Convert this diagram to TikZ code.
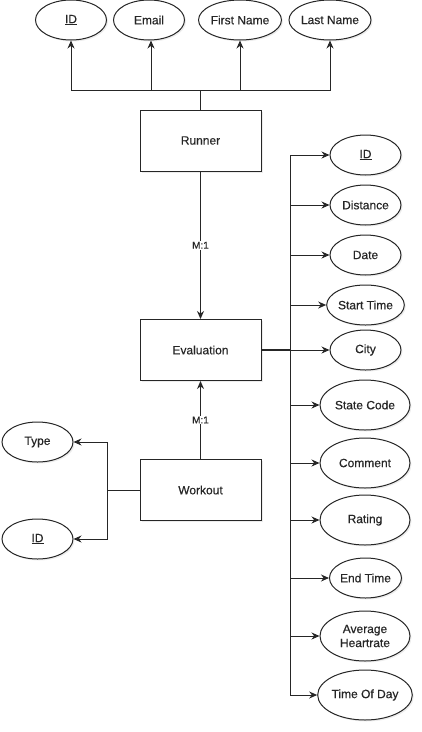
\documentclass[tikz,border=0pt]{standalone}
\usepackage{fontspec}
\setmainfont[FakeBold=0.4,AutoFakeBold=0.4]{Liberation Sans}
\usetikzlibrary{shapes.geometric,arrows.meta,shadows}
\begin{document}
\begin{tikzpicture}[x=1pt,y=-1pt,
  font=\fontsize{12}{14}\selectfont\bfseries,
  every node/.style={inner sep=0pt, text=black!85},
  entity/.style={draw=black!85, line width=1pt, fill=white, minimum width=121pt, minimum height=61pt, rectangle,
    drop shadow={opacity=0.15, shadow xshift=1.5pt, shadow yshift=-1.5pt}},
  attr/.style={draw=black!85, line width=1pt, fill=white, ellipse, minimum width=71pt, minimum height=40pt,
    drop shadow={opacity=0.15, shadow xshift=1.5pt, shadow yshift=-1.5pt}},
  bigattr/.style={attr, minimum width=90pt, minimum height=50pt, align=center},
  link/.style={draw=black!85, line width=1pt},
  arr/.style={link, -{Stealth[length=8pt,width=7pt]}},
  card/.style={fill=white, font=\fontsize{10}{12}\selectfont\bfseries, inner sep=1pt}
]
\useasboundingbox (0,0) rectangle (422,732);

% top attributes of Runner
\node[attr] (rid) at (71,20) {\underline{ID}};
\node[attr] (remail) at (149,20) {Email};
\node[attr] (rfirst) at (240,20) {First Name};
\node[attr] (rlast) at (330,20) {Last Name};

% entities
\node[entity] (runner) at (200.5,140.5) {Runner};
\node[entity] (eval) at (200.5,350) {Evaluation};
\node[entity] (work) at (200.5,490) {Workout};

% evaluation attributes
\node[attr] (eid) at (365.5,155) {\underline{ID}};
\node[attr] (edist) at (365.5,205) {Distance};
\node[attr] (edate) at (365.5,255) {Date};
\node[attr] (estart) at (365.5,305) {Start Time};
\node[attr] (ecity) at (365.5,350) {City};
\node[bigattr] (estate) at (365,405) {State Code};
\node[bigattr] (ecomm) at (365,463) {Comment};
\node[bigattr] (erate) at (365,520) {Rating};
\node[attr] (eend) at (365.5,578) {End Time};
\node[bigattr] (eheart) at (365,636) {Average\\Heartrate};
\node[bigattr] (etod) at (365,695) {Time Of Day};

% workout attributes
\node[attr] (wtype) at (37.5,442) {Type};
\node[attr] (wid) at (37.5,539) {\underline{ID}};

% junctions
\coordinate (rb) at (200.5,90);
\coordinate (eb) at (290.5,350);
\coordinate (wb) at (107,490);

% runner attribute links
\draw[link, line width=1.4pt] (runner.north) -- (rb);
\draw[arr] (rb) -| (rid.south);
\draw[arr] (rb) -| ([xshift=2pt]remail.south);
\draw[arr] (rb) -| (rfirst.south);
\draw[arr] (rb) -| (rlast.south);

% relationships
\draw[arr] (runner.south) -- node[card] {M:1} (eval.north);
\draw[arr] (work.north) -- node[card, pos=0.5] {M:1} (eval.south);

% evaluation attribute links
\draw[link, line width=1.5pt] (eval.east) -- (eb);
\foreach \n in {eid,edist,edate,estart,ecity,estate,ecomm,erate,eend,eheart,etod}
  \draw[arr] (eb) |- (\n.west);

% workout attribute links
\draw[link] (work.west) -- (wb);
\draw[arr] (wb) |- (wtype.east);
\draw[arr] (wb) |- (wid.east);
\end{tikzpicture}
\end{document}
